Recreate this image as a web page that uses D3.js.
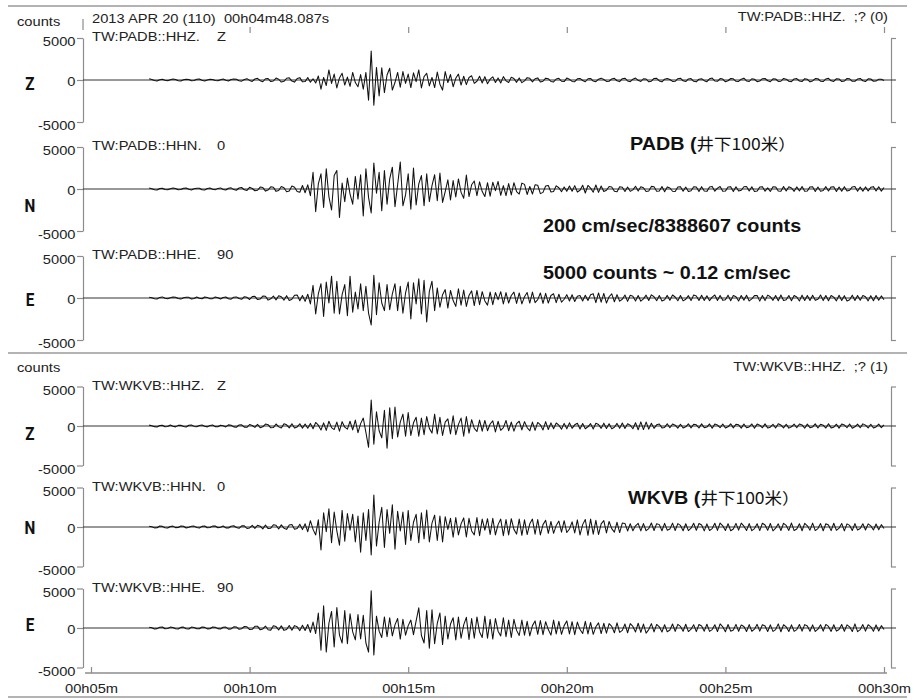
<!DOCTYPE html>
<html>
<head>
<meta charset="utf-8">
<script src="https://cdn.jsdelivr.net/npm/d3@7"></script>
<style>
  html, body { margin: 0; padding: 0; background: #fff; }
  svg { display: block; }
  text { white-space: pre; }
</style>
</head>
<body>
<svg id="chart" width="914" height="700"></svg>
<script>
// ---- record metadata -------------------------------------------------------
const recordHeader = "2013 APR 20 (110)  00h04m48.087s";
const sampleStartMin = 6 + 50 / 60;   // first digitised sample (minutes)
const sampleStepMin = 5 / 60;         // one sample every 5 s
const timeTickMinutes = [5, 10, 15, 20, 25, 30];
const timeTickLabels = ["00h05m", "00h10m", "00h15m", "00h20m", "00h25m", "00h30m"];
const ampTicks = [5000, 0, -5000];
const componentLetters = ["Z", "N", "E"];
const orientations = ["Z", "0", "90"];
const padbChannels = ["TW:PADB::HHZ.", "TW:PADB::HHN.", "TW:PADB::HHE."];
const wkvbChannels = ["TW:WKVB::HHZ.", "TW:WKVB::HHN.", "TW:WKVB::HHE."];
const panelTitles = ["TW:PADB::HHZ.  ;? (0)", "TW:WKVB::HHZ.  ;? (1)"];
const stationNotes = ["PADB", "WKVB"];
const depthNote = "井下100米）";
const scaleNotes = ["200 cm/sec/8388607 counts", "5000 counts ~ 0.12 cm/sec"];

// ---- waveforms, counts, 5 s samples from 00h06m50s ------------------------
const padbZ = [
  150,60,-70,-110,40,100,-30,-90,20,110,
  70,-80,-120,30,100,50,-90,-60,80,120,
  -40,-110,10,90,60,-70,-100,40,130,-20,
  -120,50,110,80,-90,-140,60,160,-50,-170,
  120,200,-80,-210,150,180,-190,-120,230,90,
  -240,-160,210,260,-130,-250,180,280,-220,-190,
  300,-260,150,-350,480,-1100,300,-650,1200,-400,
  700,-950,250,800,-600,350,-750,900,-300,-800,
  650,-1100,900,-2400,3450,-3000,1500,-1900,1450,-1500,
  600,1400,-1200,-300,900,-850,1000,-400,700,-900,
  850,-200,1200,-950,400,800,-700,300,-900,950,
  -500,-1200,1000,-300,650,-800,200,700,-600,450,
  -550,300,500,-400,-150,450,-350,400,-450,100,
  380,-300,250,-350,400,-100,-300,320,180,-280,
  250,-320,-100,280,200,-220,150,250,-240,-150,
  220,160,-180,-230,120,200,-150,-190,230,80,
  -170,-200,140,190,-60,-210,150,180,-130,-200,
  100,220,60,-170,-150,130,200,-90,-190,160,
  210,-120,-200,100,230,-40,-180,150,120,-210,
  -140,180,200,-110,-220,90,190,60,-170,-160,
  150,210,-100,-190,130,170,-150,-220,100,160,
  -80,-200,140,230,-120,-160,170,110,-210,-90,
  180,140,-160,-170,100,220,-110,-180,150,90,
  -200,-130,160,180,-90,-210,140,120,-170,-150,
  190,100,-150,-200,130,170,-120,-190,160,80,
  -220,-110,170,150,-140,-180,120,200,-100,-170,
  150,130,-190,-120,180,140,-160,-150,110,190,
  -90,-180,140,120,-150,-130,100,80,-60
];
const padbN = [
  110,40,-80,-120,50,100,-60,-90,30,120,
  60,-100,-70,90,120,-40,-110,20,100,80,
  -90,-130,60,110,-30,-100,70,130,-50,-120,
  90,140,-70,-150,120,180,-100,-170,200,60,
  -210,-150,230,180,-250,-120,260,200,-280,-180,
  300,150,-320,-250,350,200,-300,-380,420,-450,
  500,-800,2000,-2700,600,1800,-2200,2400,-900,-2500,
  1600,2200,-3400,700,-1500,1300,-600,-1800,1500,-1200,
  1700,-3200,2400,-1000,-2850,3100,-500,2000,-2600,2200,
  -1800,1200,2600,-2100,500,3200,-2000,-700,1800,-2400,
  2500,-1900,600,1600,-2000,1800,-1500,400,1700,-1400,
  1900,-1600,-300,1100,-1300,1000,-950,1200,-400,-1100,
  1650,-900,500,950,-800,850,-300,-900,750,-850,
  800,-200,900,-750,400,-800,650,-700,750,-300,
  -600,700,550,-650,300,-600,500,450,-550,-400,
  350,420,-350,-300,380,150,-330,250,-280,350,
  -260,400,-350,-150,450,-480,420,100,-380,480,
  -400,350,-300,-150,300,250,-280,-320,260,200,
  -300,240,-280,-100,330,-250,270,150,-300,-250,
  310,280,-260,-240,290,-320,250,120,-270,-300,
  240,280,-260,230,-300,-200,270,250,-310,280,
  -250,-280,230,310,-260,100,300,-270,-250,240,
  280,-310,260,-230,-150,270,290,-240,260,-300,
  -250,230,280,-260,140,-290,270,250,-230,-270,
  300,-240,260,120,-280,250,-230,290,-260,-240,
  250,270,-300,230,-260,-180,280,-240,250,270,
  -300,230,-260,280,-240,-150,250,290,-260,230,
  -270,250,-240,200,280,-230,260,-250,180
];
const padbE = [
  100,30,-90,-110,70,130,-40,-100,20,110,
  90,-70,-130,40,100,80,-120,-60,110,-20,
  -90,120,70,-100,-80,130,40,-110,60,120,
  -90,-140,100,130,-60,-160,150,80,-180,170,
  200,-190,-130,230,210,-250,-100,240,-220,270,
  150,-260,280,-300,-150,320,350,-330,300,-400,
  450,-700,1500,-1900,500,1700,-2200,1900,-600,2600,
  -1800,2000,-1900,400,1600,-2100,2600,-1700,700,-1300,
  1700,-1500,1400,-1800,-3200,2700,-2000,1800,-600,-1500,
  1600,-1400,500,1700,-1500,1400,-1800,600,1900,-2500,
  1800,-700,2300,-1900,2100,-2850,800,2000,-1500,1200,
  -1100,400,1000,-1200,900,-300,-1000,1100,-850,950,
  -1000,300,850,-900,900,-800,750,-350,-850,700,
  -800,650,-200,750,-700,650,-600,300,700,-650,
  600,-700,150,650,-600,700,-550,-200,600,-650,
  550,-600,300,500,-550,450,-500,-150,400,-350,
  380,-420,200,300,-350,330,-300,380,500,-550,
  600,-500,550,-600,150,500,-450,400,-380,-150,
  350,-400,320,200,-350,300,-380,-100,340,-300,
  380,150,-320,290,-350,-200,310,-280,360,120,
  -330,300,-340,-150,280,-310,350,250,-290,330,
  -300,270,-320,100,360,-300,310,-280,-200,340,
  -330,290,150,-360,300,-270,320,-350,-100,280,
  300,-370,290,-310,340,150,-280,300,-330,350,
  -300,-200,290,-320,300,120,-350,340,-290,310,
  -300,330,-280,-150,350,-310,290,-320,300,100,
  -340,330,-300,280,-350,-200,340,-290,310,-280,
  300,150,-340,280,-320,300,-270,250,-200
];
const wkvbZ = [
  110,40,-80,-120,70,100,-90,-60,130,-30,
  -110,80,100,-70,-130,90,120,-50,-100,60,
  130,-20,-110,70,120,-80,-100,90,30,-120,
  140,100,-110,-160,130,150,-140,-170,190,60,
  -180,200,-220,-100,240,170,-230,-200,260,-110,
  -250,270,150,-240,280,-260,-120,290,-270,250,
  -280,330,-350,450,100,-500,400,-550,600,-200,
  -450,500,-650,550,-150,-400,600,-500,750,-850,
  300,1000,-800,-2700,3300,-2300,1800,-600,-1500,2000,
  -2800,2300,-1600,2400,-1400,500,1500,-1300,1700,-1200,
  400,1100,-1300,1000,-1100,1200,-300,-900,1500,-1000,
  1100,-1200,500,900,-1000,1300,-1100,200,1000,-1300,
  1200,-900,800,-300,-700,750,-650,700,-600,250,
  650,-750,600,-550,-200,700,-600,500,-650,300,
  600,-500,550,-200,-600,500,-550,450,150,-500,
  550,-450,400,-350,380,100,-400,330,-360,400,
  -300,150,350,-380,320,-350,-100,300,-380,340,
  200,-300,360,-320,290,-340,-150,330,-300,370,
  -310,280,100,-350,420,-480,520,-450,500,-400,
  350,-300,150,260,-240,-180,280,-220,250,100,
  -270,230,-260,-100,280,-240,220,150,-250,270,
  -230,-140,260,-280,240,120,-220,250,-260,-100,
  280,-240,230,150,-270,250,-220,-130,260,-280,
  240,100,-230,270,-250,-150,220,-260,280,120,
  -240,230,-270,-100,250,-220,260,140,-280,240,
  -230,-120,270,-250,220,100,-260,280,-240,-150,
  230,-270,250,130,-220,260,-280,-100,240,-230,
  270,110,-250,220,-260,-120,240,-200,150
];
const wkvbN = [
  90,30,-110,-90,130,80,-100,-120,70,110,
  -80,-60,120,90,-130,-40,100,110,-70,-120,
  80,130,-90,-60,110,120,-100,-30,120,-110,
  -130,100,150,-60,-170,150,140,-190,-120,200,
  -170,220,100,-240,250,-200,-150,280,230,-260,
  270,-150,-300,250,320,-280,-200,350,-330,400,
  -600,800,-300,-1000,900,-2900,1800,-600,2300,-2000,
  1900,-500,-2300,2100,-1800,1700,-400,1600,-1900,1400,
  -3200,1800,-1700,2200,-3550,4050,-2400,600,2500,-2600,
  2200,-800,2800,-2800,2000,-500,1900,-2200,2100,-1700,
  600,1600,-2000,1800,-1500,2150,-1900,500,1500,-1700,
  1400,-1900,1300,-300,1100,-1300,1200,-1000,400,1150,
  -1250,1100,-500,-1000,1200,-1100,1000,-400,1050,-950,
  1100,-1000,300,1000,-1100,950,-1000,1050,-300,-900,
  1000,-1050,900,-950,400,1000,-900,950,-1000,300,
  850,-800,700,-800,200,750,-650,800,-700,-250,
  650,-750,900,-1000,300,950,-1050,1000,-900,850,
  -950,400,800,-750,700,-200,-650,600,-700,500,
  450,-500,420,-480,150,460,-490,430,-470,-200,
  500,-440,420,300,-480,460,-400,-250,490,-450,
  430,200,-470,410,-460,-150,480,-420,450,250,
  -490,400,-440,-200,470,-430,500,150,-450,420,
  -480,-250,460,-400,490,100,-450,430,-470,-200,
  410,-460,480,250,-420,450,-490,-150,400,-440,
  470,200,-430,500,-450,-250,420,-480,460,150,
  -400,490,-450,-200,430,-470,410,250,-460,480,
  -420,-150,450,-490,400,200,-440,430,-390,-200,
  410,-380,400,150,-370,380,-350,300,-200
];
const wkvbE = [
  100,40,-120,-80,90,130,-100,-60,110,70,
  -90,-120,80,110,-100,-130,120,60,-90,-100,
  130,80,-110,-90,120,100,-80,-130,100,110,
  -140,-120,150,130,-170,-80,190,160,-200,-170,
  210,230,-230,-120,250,-220,-270,290,180,-250,
  270,-300,-200,320,-280,300,150,-330,350,-310,
  450,-550,750,-700,1900,-2800,2800,-3050,600,2100,
  -2400,2600,-900,-1900,2200,-2000,1800,-500,-1500,1700,
  -1400,1600,-1900,-3050,4700,-3400,1500,-400,-1200,1400,
  -1100,1300,-1000,400,1200,-1400,1100,-900,300,1000,
  -850,900,2550,-950,-1900,2200,-2550,2300,-2000,600,
  1900,-2100,1500,-1400,500,1300,-1500,1400,-1300,400,
  1350,-1450,1200,-1300,1400,-500,-1200,1500,-1300,1100,
  -1400,1200,-400,-1000,1300,-1100,1000,-1200,1100,-300,
  -950,1000,-900,850,-1000,300,900,-800,950,-850,
  800,-200,-900,1000,-750,850,-800,300,900,-750,
  800,-850,750,-200,-700,850,-750,700,-800,150,
  650,-700,600,-650,550,200,-600,650,-550,-300,
  500,-600,550,200,-500,600,-550,500,-650,-200,
  550,-500,450,150,-500,420,-470,-250,500,-430,
  460,200,-410,480,-450,-150,420,-460,440,250,
  -400,470,-430,-200,410,-450,520,150,-480,440,
  -400,-250,460,-420,390,200,-450,430,-410,-150,
  460,-400,420,250,-450,400,-430,-200,520,-470,
  410,150,-440,400,-420,-200,450,-400,430,250,
  -410,390,-440,-150,420,-400,450,200,-430,410,
  -390,-200,440,-420,400,150,-450,520,-460,-200,
  430,-400,420,150,-410,390,-380,300,-200
];

// ---- drawing ---------------------------------------------------------------
const svg = d3.select("#chart");
const INK = "#222";
const FRAME = "#8c8c8c";
const SANS = "'Liberation Sans', Arial, Helvetica, sans-serif";
const WIDEN = 1.13;   // plot fonts are slightly wide

const x = d3.scaleLinear().domain([5, 30]).range([91, 884]);
const axisX = 83, bracketX = 891;

function label(parent, px, py, str, o = {}) {
  const g = parent.append("g")
    .attr("transform", `translate(${px},${py}) scale(${o.sx ?? WIDEN},1)`);
  return g.append("text")
    .attr("xml:space", "preserve")
    .attr("font-family", o.family || SANS)
    .attr("font-size", o.size || 13)
    .attr("font-weight", o.weight || "normal")
    .attr("text-anchor", o.anchor || "start")
    .attr("fill", o.fill || INK)
    .text(str);
}

const panels = [
  { channels: padbChannels, traces: [padbZ, padbN, padbE],
    zeros: [80, 189, 298], half: 42, letterDy: [3, 16, 1],
    countsY: 26, titleY: 21, separatorY: 6 },
  { channels: wkvbChannels, traces: [wkvbZ, wkvbN, wkvbE],
    zeros: [426, 527, 628], half: 39.5, letterDy: [7, 0, -4],
    countsY: 372, titleY: 371, separatorY: 353 }
];

panels.forEach((p, pi) => {
  // panel separator
  svg.append("line")
    .attr("x1", 8).attr("x2", 907)
    .attr("y1", p.separatorY).attr("y2", p.separatorY)
    .attr("stroke", "#9a9a9a").attr("stroke-width", 1.5);
  label(svg, 17, p.countsY, "counts");
  label(svg, 888, p.titleY, panelTitles[pi], { anchor: "end" });

  p.traces.forEach((data, ti) => {
    const zero = p.zeros[ti];
    const y = d3.scaleLinear().domain([-5000, 5000]).range([zero + p.half, zero - p.half]);
    const g = svg.append("g");

    // amplitude axis
    const ax = g.append("g").attr("transform", `translate(${axisX},0)`)
      .call(d3.axisLeft(y).tickValues(ampTicks).tickSize(6).tickSizeOuter(0).tickFormat(d => String(d)));
    ax.selectAll("path, line").attr("stroke", FRAME).attr("stroke-width", 1.2);
    ax.selectAll("text")
      .attr("font-family", SANS).attr("font-size", 13).attr("fill", INK)
      .attr("dy", null).attr("x", -7.5 / WIDEN)
      .attr("y", d => d === 0 ? 5 : 7.5)
      .attr("transform", `scale(${WIDEN},1)`);

    // closing bracket on the right
    const br = g.append("g").attr("transform", `translate(${bracketX},0)`)
      .call(d3.axisRight(y).tickValues([5000, -5000]).tickSize(5).tickSizeOuter(0).tickFormat(""));
    br.selectAll("path, line").attr("stroke", FRAME).attr("stroke-width", 1.2);

    // zero line
    g.append("line")
      .attr("x1", axisX).attr("x2", bracketX + 5)
      .attr("y1", y(0)).attr("y2", y(0))
      .attr("stroke", "#333").attr("stroke-width", 1);

    // seismogram
    const line = d3.line()
      .x((d, i) => x(sampleStartMin + i * sampleStepMin))
      .y(d => y(d));
    g.append("path").datum(data)
      .attr("d", line)
      .attr("fill", "none")
      .attr("stroke", "#111")
      .attr("stroke-width", 1.05)
      .attr("stroke-linejoin", "round");

    // channel label and component
    label(g, 92, y(5000) + 3, p.channels[ti]);
    label(g, 217, y(5000) + 3, orientations[ti]);
    label(g, 30, zero + p.letterDy[ti] + 6.5, componentLetters[ti],
      { family: "Roboto, 'Open Sans', sans-serif", weight: "bold", size: 18, anchor: "middle", sx: 0.85, fill: "#111" });
  });
});

// header of first panel: start time and time marks
label(svg, 92, 23, recordHeader);
svg.append("line").attr("x1", axisX).attr("x2", axisX).attr("y1", 19).attr("y2", 30)
  .attr("stroke", FRAME).attr("stroke-width", 1.2);
const topTicks = svg.append("g").attr("transform", "translate(0,27)")
  .call(d3.axisBottom(x).tickValues(timeTickMinutes.slice(1)).tickSize(6).tickFormat(""));
topTicks.select(".domain").remove();
topTicks.selectAll("line").attr("stroke", FRAME).attr("stroke-width", 1.2);

// time axis at the bottom
const axisY = 673;
svg.append("line").attr("x1", 85).attr("x2", 887).attr("y1", axisY).attr("y2", axisY)
  .attr("stroke", FRAME).attr("stroke-width", 1.3);
const bottom = svg.append("g").attr("transform", `translate(0,${axisY})`)
  .call(d3.axisBottom(x).tickValues(timeTickMinutes).tickSizeInner(-6).tickSizeOuter(0)
    .tickPadding(11).tickFormat((d, i) => timeTickLabels[i]));
bottom.select(".domain").remove();
bottom.selectAll("line").attr("stroke", FRAME).attr("stroke-width", 1.2);
bottom.selectAll("text").attr("font-family", SANS).attr("font-size", 13).attr("fill", INK)
  .attr("transform", `scale(${WIDEN},1)`);
svg.append("line").attr("x1", 8).attr("x2", 907).attr("y1", 697).attr("y2", 697)
  .attr("stroke", "#9a9a9a").attr("stroke-width", 1.5);

// station notes
function stationNote(px, py, name) {
  const t = label(svg, px, py, "", { weight: "bold", size: 17.5, fill: "#111" });
  t.append("tspan").text(name + " (");
  t.append("tspan").attr("font-family", "'Noto Sans CJK SC', sans-serif")
    .attr("font-weight", "normal").attr("font-size", 15.5).text(depthNote);
}
stationNote(630, 150, stationNotes[0]);
stationNote(628, 504, stationNotes[1]);
label(svg, 543, 232, scaleNotes[0], { weight: "bold", size: 17.5, fill: "#111" });
label(svg, 543, 279, scaleNotes[1], { weight: "bold", size: 17.5, fill: "#111" });
</script>
</body>
</html>
